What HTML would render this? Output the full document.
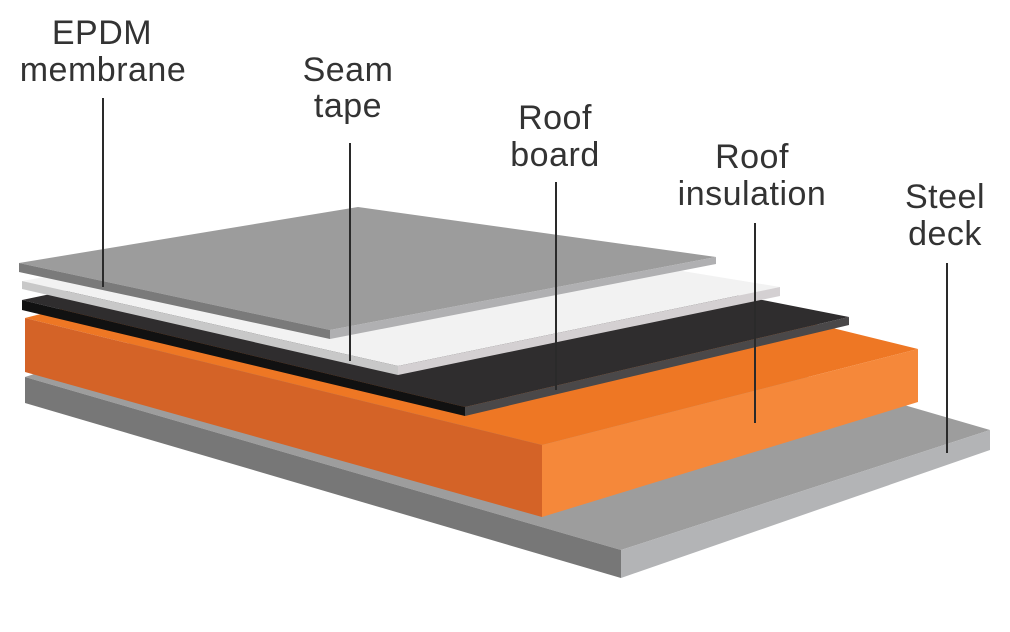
<!DOCTYPE html>
<html><head><meta charset="utf-8"><style>html,body{margin:0;padding:0;background:#fff}svg{display:block}</style></head>
<body>
<svg width="1010" height="632" viewBox="0 0 1010 632" xmlns="http://www.w3.org/2000/svg">
<!-- Steel deck -->
<polygon points="25,377 394,257 990,430 621,550" fill="#9d9d9d"/>
<polygon points="25,377 621,550 621,578 25,403" fill="#777777"/>
<polygon points="621,550 990,430 990,450 621,578" fill="#b3b4b6"/>
<!-- Insulation -->
<polygon points="25,318 401,222 918,349 542,445" fill="#ee7724"/>
<polygon points="25,318 542,445 542,517 25,372" fill="#d46327"/>
<polygon points="542,445 918,349 918,402 542,517" fill="#f5883a"/>
<!-- Roof board -->
<polygon points="22,300 380,225 849,317 465,407" fill="#2f2d2e"/>
<polygon points="22,300 465,407 465,416 22,310" fill="#111111"/>
<polygon points="465,407 849,317 849,325 465,416" fill="#4a4849"/>
<!-- Seam tape -->
<polygon points="22,281 370,220 780,287 398,366" fill="#f2f2f2"/>
<polygon points="22,281 398,366 398,375 22,289" fill="#c8c8c8"/>
<polygon points="398,366 780,287 780,296 398,375" fill="#d4d0d2"/>
<!-- EPDM -->
<polygon points="19,263 358,207 716,257 330,330" fill="#9c9c9c"/>
<polygon points="19,263 330,330 330,339 19,272" fill="#7a7a7a"/>
<polygon points="330,330 716,257 716,264 330,339" fill="#b0b0b2"/>
<!-- leader lines -->
<g stroke="#2a2a2a" stroke-width="2">
<line x1="103" y1="98" x2="103" y2="287"/>
<line x1="350" y1="143" x2="350" y2="361"/>
<line x1="556" y1="182" x2="556" y2="390"/>
<line x1="755" y1="223" x2="755" y2="423"/>
<line x1="947" y1="263" x2="947" y2="453"/>
</g>
<g font-family="Liberation Sans, sans-serif" font-size="34" fill="#333" text-anchor="middle" letter-spacing="0.5">
<text x="102" y="44">EPDM</text>
<text x="103" y="81">membrane</text>
<text x="348" y="81">Seam</text>
<text x="348" y="117">tape</text>
<text x="555" y="129">Roof</text>
<text x="555" y="166">board</text>
<text x="752" y="168">Roof</text>
<text x="752" y="205">insulation</text>
<text x="945" y="208">Steel</text>
<text x="945" y="245">deck</text>
</g>
</svg>
</body></html>
